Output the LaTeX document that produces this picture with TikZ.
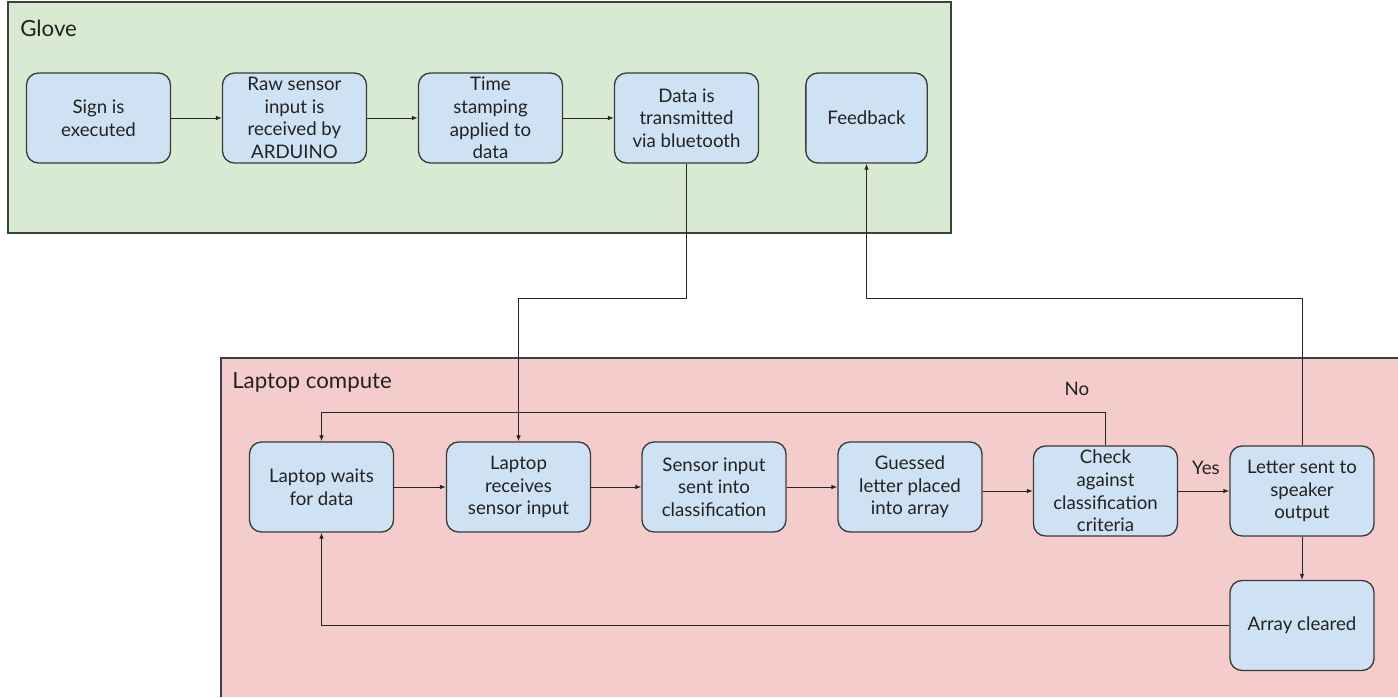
\documentclass[tikz,border=0pt]{standalone}
\usepackage{fontspec}
\setmainfont{Lato}
\usetikzlibrary{arrows.meta}
\definecolor{glovebg}{HTML}{D9EAD3}
\definecolor{laptopbg}{HTML}{F4CCCC}
\definecolor{boxfill}{HTML}{CFE2F3}
\definecolor{boxline}{HTML}{3A3A3A}
\definecolor{txt}{HTML}{222222}
\tikzset{
  x=0.75pt, y=-0.75pt,
  stepbox/.style={draw=boxline, fill=boxfill, line width=1pt, rounded corners=9pt,
    minimum width=108pt, minimum height=67.5pt, inner sep=0pt, align=center,
    text=txt, font=\fontsize{14}{17}\selectfont},
  arr/.style={draw=black!85, line width=0.75pt, -{Latex[length=4.5pt,width=3.5pt]}},
  lbl/.style={text=txt, font=\fontsize{14}{17}\selectfont, inner sep=0pt},
  regionlbl/.style={text=txt, font=\fontsize{16.7}{20}\selectfont, inner sep=0pt},
  region/.style={draw=black!75, line width=1pt}
}
\begin{document}
\begin{tikzpicture}
\useasboundingbox (0,0) rectangle (1398,697);
% regions
\filldraw[region, fill=glovebg] (8,2) rectangle (951,233);
\fill[laptopbg] (221,358) rectangle (1398,697);
\draw[region] (221,697) -- (221,358) -- (1398,358);
\node[regionlbl, anchor=west] (glovelbl) at (20,28) {Glove};
\node[regionlbl, anchor=west] (laptoplbl) at (232,382) {Laptop compute};
% glove nodes
\node[stepbox] (sign) at (98.5,118) {Sign is\\executed};
\node[stepbox] (raw) at (294.5,118) {Raw sensor\\input is\\received by\\ARDUINO};
\node[stepbox] (time) at (490.5,118) {Time\\stamping\\applied to\\data};
\node[stepbox] (data) at (686.5,118) {Data is\\transmitted\\via bluetooth};
\node[stepbox, minimum width=91pt] (feedback) at (866.5,118) {Feedback};
% laptop nodes
\node[stepbox] (waits) at (321.5,487) {Laptop waits\\for data};
\node[stepbox] (receives) at (518.5,487) {Laptop\\receives\\sensor input};
\node[stepbox] (sensor) at (714,487) {Sensor input\\sent into\\classification};
\node[stepbox] (guessed) at (910,487) {Guessed\\letter placed\\into array};
\node[stepbox] (check) at (1105.5,491) {Check\\against\\classification\\criteria};
\node[stepbox] (letter) at (1302,491) {Letter sent to\\speaker\\output};
\node[stepbox] (array) at (1302,625.5) {Array cleared};
% labels
\node[lbl] (no) at (1077,389) {No};
\node[lbl] (yes) at (1206,468) {Yes};
% junctions
\coordinate (j1) at (686.5,298);
\coordinate (j2) at (866.5,298);
\coordinate (j3) at (1105.5,412);
% connectors
\draw[arr] (sign) -- (raw);
\draw[arr] (raw) -- (time);
\draw[arr] (time) -- (data);
\draw[arr] (data.south) -- (j1) -| (receives.north);
\draw[arr] (letter.north) |- (j2) -- (feedback.south);
\draw[arr] (waits) -- (receives);
\draw[arr] (receives) -- (sensor);
\draw[arr] (sensor) -- (guessed);
\draw[arr] (guessed.east |- check.west) -- (check.west);
\draw[arr] (check.north) -- (j3) -| (waits.north);
\draw[arr] (check) -- (letter);
\draw[arr] (letter) -- (array);
\draw[arr] (array.west) -| (waits.south);
\end{tikzpicture}
\end{document}
